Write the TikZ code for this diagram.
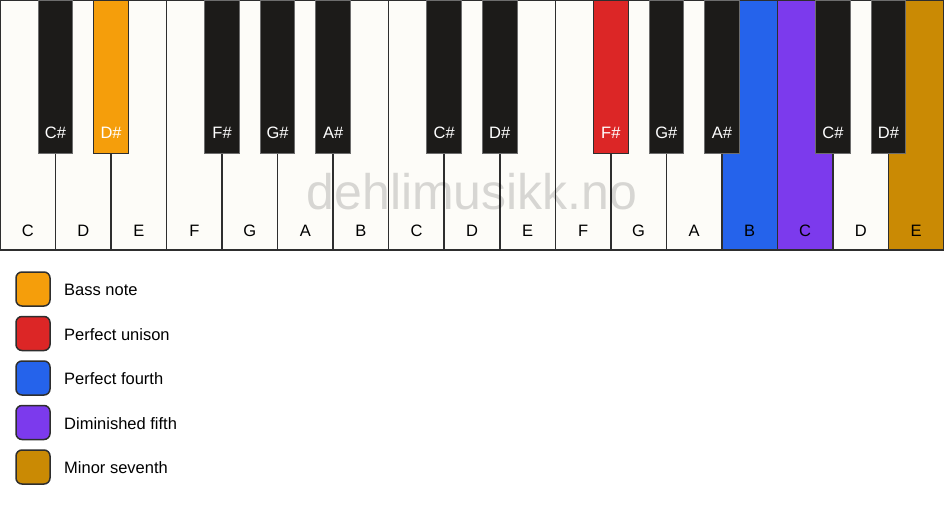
\documentclass[tikz,border=0pt]{standalone}
\usepackage{fontspec}
\setmainfont{Liberation Sans}
\definecolor{ivory}{HTML}{FDFCF8}
\definecolor{keyblack}{HTML}{1C1B19}
\definecolor{edge}{HTML}{2E2E2E}
\definecolor{bassc}{HTML}{F59E0B}
\definecolor{unisonc}{HTML}{DC2626}
\definecolor{fourthc}{HTML}{2563EB}
\definecolor{fifthc}{HTML}{7C3AED}
\definecolor{seventhc}{HTML}{CA8A04}
\tikzset{
  whitekey/.style={draw=edge, line width=1.5pt, fill=ivory, anchor=north west, minimum width=55.529pt, minimum height=250pt, inner sep=0pt, outer sep=0pt},
  blackkey/.style={draw=edge, line width=1pt, fill=keyblack, anchor=north, minimum width=34.5pt, minimum height=153pt, inner sep=0pt, outer sep=0pt},
  wlabel/.style={font=\fontsize{16.5}{18}\selectfont, text=black, anchor=base},
  blabel/.style={font=\fontsize{16.5}{18}\selectfont, text=white, anchor=base},
  swatch/.style={draw=edge, line width=1.5pt, rounded corners=6pt, minimum width=34pt, minimum height=34pt, inner sep=0pt, anchor=center},
  legtext/.style={font=\fontsize{16.5}{18}\selectfont, anchor=west, inner sep=0pt},
  watermark/.style={font=\fontsize{50}{52}\selectfont, text=black, text opacity=0.15, anchor=base},
}
\begin{document}
\begin{tikzpicture}[x=1pt,y=-1pt]
\useasboundingbox[fill=white] (0,0) rectangle (944,506);
% white keys
\foreach \i/\n/\c in {0/C/ivory,1/D/ivory,2/E/ivory,3/F/ivory,4/G/ivory,5/A/ivory,6/B/ivory,7/C/ivory,8/D/ivory,9/E/ivory,10/F/ivory,11/G/ivory,12/A/ivory,13/B/fourthc,14/C/fifthc,15/D/ivory,16/E/seventhc}{
  \node[whitekey, fill=\c] (w\i) at (\i*55.529,0) {};
  \node[wlabel] (wl\i) at (\i*55.529+27.76,236) {\n};
}
% black keys
\foreach \i/\n/\c/\d in {0/C\#/keyblack/edge!70,1/D\#/bassc/edge,3/F\#/keyblack/edge!70,4/G\#/keyblack/edge!70,5/A\#/keyblack/edge!70,7/C\#/keyblack/edge!70,8/D\#/keyblack/edge!70,10/F\#/unisonc/edge,11/G\#/keyblack/edge!70,12/A\#/keyblack/edge!70,14/C\#/keyblack/edge!70,15/D\#/keyblack/edge!70}{
  \node[blackkey, fill=\c, draw=\d] (b\i) at (\i*55.529+55.529,0) {};
  \node[blabel] (bl\i) at (\i*55.529+55.529,138) {\n};
}
% watermark
\node[watermark] (wm) at (472,209) {dehlimusikk.no};
% legend
\foreach \k/\c/\t [count=\j from 0] in {a/bassc/Bass note,b/unisonc/Perfect unison,c/fourthc/Perfect fourth,d/fifthc/Diminished fifth,e/seventhc/Minor seventh}{
  \node[swatch, fill=\c] (s\k) at (33,289+\j*44.5) {};
  \node[legtext] (t\k) at (64,290+\j*44.5) {\t};
}
\end{tikzpicture}
\end{document}
